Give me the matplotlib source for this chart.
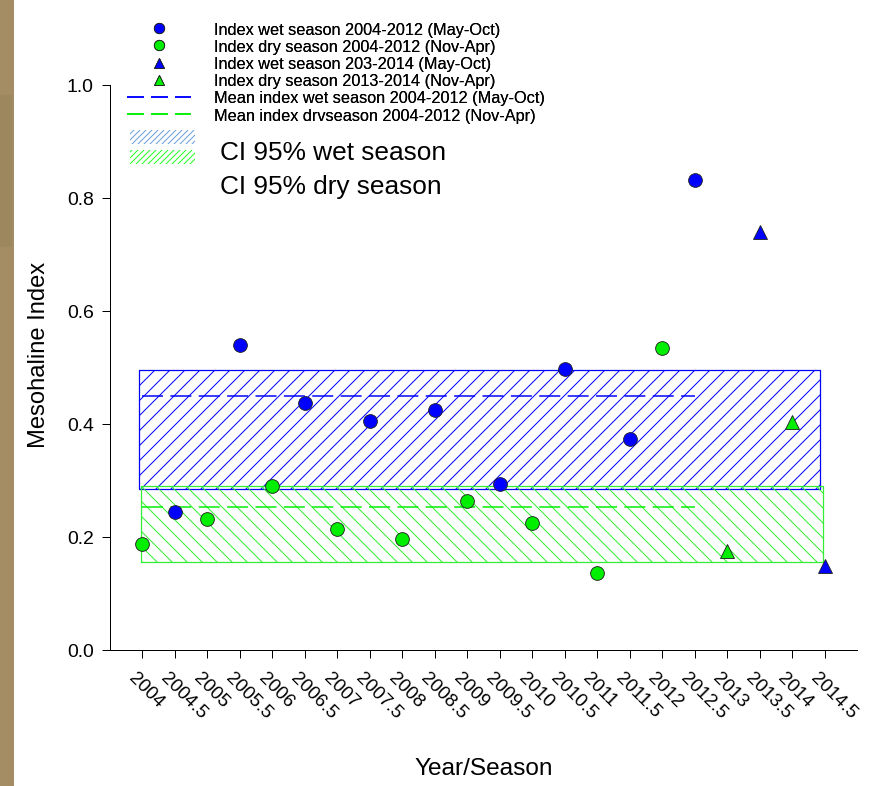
import matplotlib.pyplot as plt
import matplotlib.transforms as mtransforms
from matplotlib.lines import Line2D
from matplotlib.patches import Rectangle
import numpy as np

plt.rcParams['font.family'] = ['Liberation Sans', 'DejaVu Sans']
plt.rcParams['hatch.linewidth'] = 0.8
plt.rcParams['lines.scale_dashes'] = False

# Mesohaline index, wet season (May-Oct) 2004-2012
wet_years = [2004.5, 2005.5, 2006.5, 2007.5, 2008.5, 2009.5, 2010.5, 2011.5, 2012.5]
wet_index = [0.245, 0.540, 0.437, 0.406, 0.425, 0.294, 0.497, 0.373, 0.832]

# Mesohaline index, dry season (Nov-Apr) 2004-2012
dry_years = [2004, 2005, 2006, 2007, 2008, 2009, 2010, 2011, 2012]
dry_index = [0.188, 0.232, 0.290, 0.214, 0.196, 0.264, 0.225, 0.137, 0.534]

# 2013-2014 seasons
wet_years_new = [2013.5, 2014.5]
wet_index_new = [0.740, 0.148]
dry_years_new = [2013, 2014]
dry_index_new = [0.176, 0.403]

# means and 95% confidence intervals of the 2004-2012 series
mean_span = [2004, 2012.5]
wet_mean = 0.450
dry_mean = 0.2525
wet_ci = [0.285, 0.496]
dry_ci = [0.156, 0.290]
wet_ci_span = [2003.95, 2014.43]
dry_ci_span = [2003.97, 2014.47]

tick_years = np.arange(2004, 2014.51, 0.5)
tick_labels = [f'{v:g}' for v in tick_years]

legend_labels = [
    'Index wet season 2004-2012 (May-Oct)',
    'Index dry season 2004-2012 (Nov-Apr)',
    'Index wet season 203-2014 (May-Oct)',
    'Index dry season 2013-2014 (Nov-Apr)',
    'Mean index wet season 2004-2012 (May-Oct)',
    'Mean index drvseason 2004-2012 (Nov-Apr)',
]
ci_labels = ['CI 95% wet season', 'CI 95% dry season']

BLUE = '#0000ff'
GREEN = '#00ee00'
EDGE = '#222222'


def plot_index():
    fig = plt.figure(figsize=(891 / 90, 787 / 90), dpi=90)

    # faixa lateral do fundo do slide
    fig.patches.append(Rectangle((0, 0), 14 / 891, 1, transform=fig.transFigure,
                                 facecolor='#a48d64', edgecolor='none', zorder=0))
    fig.patches.append(Rectangle((0, 1 - 248 / 787), 12 / 891, 152 / 787,
                                 transform=fig.transFigure,
                                 facecolor='#9d875f', edgecolor='none', zorder=0))

    ax = fig.add_axes([110 / 891, 1 - 651 / 787, 747 / 891, 565 / 787])

    # intervalos de confiança
    ax.fill_between(wet_ci_span, wet_ci[0], wet_ci[1], facecolor='none',
                    edgecolor=BLUE, hatch='//', linewidth=1.0, zorder=1)
    ax.fill_between(dry_ci_span, dry_ci[0], dry_ci[1], facecolor='none',
                    edgecolor='#33ee33', hatch='\\\\', linewidth=1.0, zorder=1)

    # médias
    ax.plot(mean_span, [wet_mean, wet_mean], color=BLUE, lw=1.2,
            linestyle=(0, (16.8, 5.9)), zorder=2)
    ax.plot(mean_span, [dry_mean, dry_mean], color=GREEN, lw=1.2,
            linestyle=(0, (16.8, 5.9)), zorder=2)

    mk = dict(linestyle='none', markersize=11, markeredgecolor=EDGE,
              markeredgewidth=0.7, zorder=3)
    ax.plot(wet_years, wet_index, marker='o', color=BLUE, **mk)
    ax.plot(dry_years, dry_index, marker='o', color=GREEN, **mk)
    ax.plot(wet_years_new, wet_index_new, marker='^', color=BLUE, **mk)
    ax.plot(dry_years_new, dry_index_new, marker='^', color=GREEN, **mk)

    ax.set_xlim(2003.5, 2015.0)
    ax.set_ylim(0, 1.0)
    ax.set_yticks([0.0, 0.2, 0.4, 0.6, 0.8, 1.0])
    ax.set_yticklabels(['0.0', '0.2', '0.4', '0.6', '0.8', '1.0'])
    ax.set_xticks(tick_years)
    ax.set_xticklabels(tick_labels, rotation=-45, ha='left', va='top',
                       rotation_mode='anchor')

    for s in ['top', 'right']:
        ax.spines[s].set_visible(False)
    for s in ['left', 'bottom']:
        ax.spines[s].set_linewidth(0.8)
    ax.tick_params(axis='both', direction='out', length=6.4, width=0.8,
                   colors='black')
    ax.tick_params(axis='y', pad=6.5, labelsize=15.5)
    ax.tick_params(axis='x', pad=8.8, labelsize=15)
    shift = mtransforms.ScaledTranslation(-5.5 / 90, 0, fig.dpi_scale_trans)
    for lbl in ax.get_xticklabels():
        lbl.set_transform(lbl.get_transform() + shift)

    ax.set_ylabel('Mesohaline Index', fontsize=19)
    ax.yaxis.set_label_coords(-0.080, 0.524)
    ax.set_xlabel('Year/Season', fontsize=19.5)
    ax.xaxis.set_label_coords(0.5, -0.189)

    # legenda dos pontos e médias
    pm = dict(linestyle='none', markersize=11, markeredgecolor=EDGE,
              markeredgewidth=0.7)
    handles = [
        Line2D([], [], marker='o', color=BLUE, **pm),
        Line2D([], [], marker='o', color=GREEN, **pm),
        Line2D([], [], marker='^', color=BLUE, **pm),
        Line2D([], [], marker='^', color=GREEN, **pm),
        Line2D([], [], color=BLUE, lw=1.2, linestyle=(0, (13.6, 5.6))),
        Line2D([], [], color=GREEN, lw=1.2, linestyle=(0, (13.6, 5.6))),
    ]
    leg = fig.legend(handles, legend_labels, loc='upper left',
                     bbox_to_anchor=(127 / 891, 1 - 23 / 787), frameon=False,
                     fontsize=13, handlelength=64 / 16.25, handletextpad=23 / 16.25,
                     labelspacing=0.13, borderpad=0, borderaxespad=0,
                     numpoints=1, markerscale=0.75)

    # legenda dos intervalos
    swatches = [
        Rectangle((0, 0), 1, 1, facecolor='none', edgecolor='#6a9fdc',
                  hatch='/////', linewidth=0),
        Rectangle((0, 0), 1, 1, facecolor='none', edgecolor='#22ff22',
                  hatch='/////', linewidth=0),
    ]
    leg2 = fig.legend(swatches, ['', ''], loc='upper left',
                      bbox_to_anchor=(130 / 891, 1 - 131 / 787), frameon=False,
                      fontsize=11.2, handlelength=65 / 14, handleheight=17 / 14,
                      handletextpad=0, labelspacing=0.36, borderpad=0,
                      borderaxespad=0)
    fig.add_artist(leg)

    fig.text(220 / 891, 1 - 153 / 787, ci_labels[0], fontsize=21, va='center')
    fig.text(220 / 891, 1 - 187 / 787, ci_labels[1], fontsize=21, va='center')

    fig.savefig('out.png', dpi=90)


if __name__ == '__main__':
    plot_index()
